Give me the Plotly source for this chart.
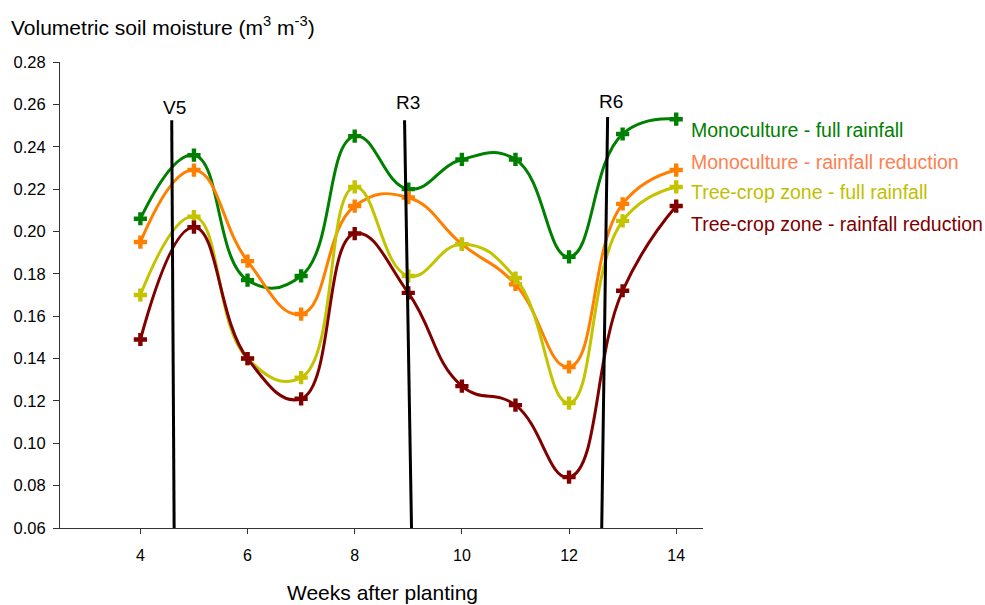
import plotly.graph_objects as go

weeks = [4, 5, 6, 7, 8, 9, 10, 11, 12, 13, 14]
mono_full = [0.206, 0.236, 0.177, 0.179, 0.245, 0.220, 0.234, 0.234, 0.188, 0.246, 0.253]
mono_red = [0.195, 0.229, 0.186, 0.161, 0.212, 0.216, 0.194, 0.175, 0.136, 0.213, 0.229]
tree_full = [0.170, 0.207, 0.140, 0.131, 0.221, 0.179, 0.194, 0.178, 0.119, 0.205, 0.221]
tree_red = [0.149, 0.202, 0.140, 0.121, 0.199, 0.171, 0.127, 0.118, 0.084, 0.172, 0.212]

series_names = ["Monoculture - full rainfall", "Monoculture - rainfall reduction",
                "Tree-crop zone - full rainfall", "Tree-crop zone - rainfall reduction"]
line_colors = ["#008000", "#FF8000", "#C3C300", "#800000"]
text_colors = ["#008000", "#FF7F50", "#BFBF00", "#800000"]

stage_names = ["V5", "R3", "R6"]
stage_x_top = [4.585, 8.93, 12.72]
stage_x_bottom = [4.63, 9.06, 12.61]
stage_y_top = [0.2525, 0.2525, 0.254]
stage_label_shift = [0, 5, 3]

FONT = "Liberation Sans, Arial, Helvetica, sans-serif"

# plot-area geometry in pixels (for placing free text)
L, R, T, B = 60, 703, 62, 528


def px_to_paper(px, py):
    return (px - L) / (R - L), (B - py) / (B - T)


fig = go.Figure()
for name, vals, col in zip(series_names, [mono_full, mono_red, tree_full, tree_red], line_colors):
    fig.add_trace(go.Scatter(
        x=weeks, y=vals, name=name, mode="lines+markers",
        line=dict(color=col, width=3, shape="spline", smoothing=1.3),
        marker=dict(symbol="cross", size=11, color=col, line=dict(width=0)),
        showlegend=False,
    ))

for nm, xt, xb, yt, ys in zip(stage_names, stage_x_top, stage_x_bottom, stage_y_top,
                              stage_label_shift):
    fig.add_shape(type="line", x0=xt, y0=yt, x1=xb, y1=0.06, xref="x", yref="y",
                  line=dict(color="black", width=3))
    fig.add_annotation(x=xt, y=yt, text=nm, showarrow=False, yanchor="bottom",
                       xanchor="center", yshift=ys, xshift=3,
                       font=dict(size=19, color="black", family=FONT))

label_pix = [130, 162, 192, 224]
for nm, py, tc in zip(series_names, label_pix, text_colors):
    ax, ay = px_to_paper(689, py)
    fig.add_annotation(x=ax, y=ay, xref="paper", yref="paper",
                       text=nm, showarrow=False, xanchor="left", yanchor="middle",
                       font=dict(size=19.5, color=tc, family=FONT))

tx, ty = px_to_paper(9, 26)
fig.add_annotation(x=tx, y=ty, xref="paper", yref="paper",
                   text="Volumetric soil moisture (m<sup>3</sup> m<sup>-3</sup>)",
                   showarrow=False, xanchor="left", yanchor="middle",
                   font=dict(size=21, color="black", family=FONT))

xx, xy = px_to_paper(382, 592)
fig.add_annotation(x=xx, y=xy, xref="paper", yref="paper",
                   text="Weeks after planting",
                   showarrow=False, xanchor="center", yanchor="middle",
                   font=dict(size=21, color="black", family=FONT))

fig.update_layout(
    width=985, height=605,
    margin=dict(l=L, r=985 - R, t=T, b=605 - B, autoexpand=False),
    paper_bgcolor="white", plot_bgcolor="white",
    font=dict(family=FONT, size=16, color="black"),
    xaxis=dict(range=[2.5, 14.5], tickmode="array", tickvals=[4, 6, 8, 10, 12, 14],
               showgrid=False, zeroline=False, showline=True, linecolor="#333",
               linewidth=1, ticks="outside", ticklen=5, tickcolor="#333",
               ticklabelstandoff=8, automargin=False,
               tickfont=dict(size=16)),
    yaxis=dict(range=[0.06, 0.28], dtick=0.02, tick0=0.06, tickformat=".2f",
               showgrid=False, zeroline=False, showline=True, linecolor="#333",
               linewidth=1, ticks="outside", ticklen=6, tickcolor="#333",
               ticklabelstandoff=4, automargin=False,
               tickfont=dict(size=16.5)),
)

fig.write_html("out.html", config={"displayModeBar": False},
               post_script="document.body.style.margin='0';")
